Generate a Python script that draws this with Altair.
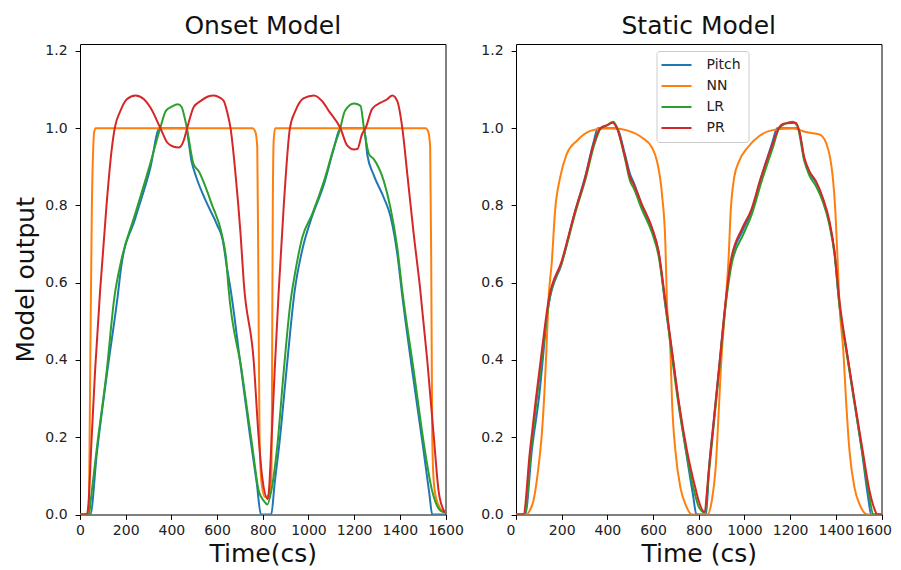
import altair as alt
import pandas as pd

SERIES = ["Pitch", "NN", "LR", "PR"]
COLORS = ["#1f77b4", "#ff7f0e", "#2ca02c", "#d62728"]

# ---------------- Onset Model (left panel) ----------------
onset_pitch_t = [0, 45, 74, 117, 166, 180, 241, 307, 348, 462, 490, 508, 560, 600, 625, 643, 660, 700, 745,
                 774, 792, 837, 852, 874, 905, 940, 975, 1015, 1068, 1110, 1140, 1243, 1258, 1285, 1330, 1360,
                 1390, 1410, 1455, 1503, 1530, 1542, 1600]
onset_pitch_v = [0, 0, 0.16, 0.36, 0.57, 0.64, 0.765, 0.895, 1.0, 1.0, 0.91, 0.875, 0.80, 0.75, 0.71, 0.64,
                 0.58, 0.40, 0.20, 0.08, 0.0, 0.0, 0.08, 0.19, 0.38, 0.58, 0.69, 0.77, 0.855, 0.945, 1.0, 1.0,
                 0.93, 0.88, 0.82, 0.77, 0.67, 0.57, 0.37, 0.17, 0.05, 0.0, 0.0]

onset_nn_t = [0, 37, 40, 45, 52, 58, 62, 68, 755, 768, 776, 781, 786, 795, 810, 825, 838, 841, 844, 848, 855,
              1513, 1525, 1533, 1538, 1542, 1548, 1560, 1578, 1600]
onset_nn_v = [0, 0, 0.06, 0.4, 0.8, 0.95, 0.99, 1.0, 1.0, 0.99, 0.95, 0.6, 0.2, 0.08, 0.045, 0.05, 0.1, 0.4,
              0.8, 0.97, 1.0, 1.0, 0.99, 0.95, 0.6, 0.2, 0.09, 0.04, 0.015, 0.005]

onset_lr_t = [0, 40, 45, 74, 117, 150, 180, 241, 307, 351, 376, 400, 428, 445, 457, 468, 497, 519, 577, 621,
              640, 650, 708, 755, 783, 805, 820, 837, 863, 892, 922, 940, 973, 1016, 1068, 1111, 1138, 1160,
              1199, 1228, 1243, 1265, 1286, 1330, 1359, 1389, 1411, 1461, 1508, 1542, 1578, 1600]
onset_lr_v = [0, 0, 0.027, 0.173, 0.372, 0.56, 0.656, 0.777, 0.907, 1.0, 1.045, 1.055, 1.062, 1.055, 1.03,
              1.0, 0.907, 0.889, 0.803, 0.725, 0.66, 0.587, 0.372, 0.173, 0.06, 0.035, 0.026, 0.06, 0.173,
              0.372, 0.553, 0.62, 0.717, 0.777, 0.863, 0.95, 0.997, 1.045, 1.064, 1.058, 1.0, 0.933, 0.92,
              0.863, 0.794, 0.69, 0.579, 0.372, 0.173, 0.06, 0.01, 0.005]

onset_pr_t = [0, 30, 37, 49, 66, 88, 116, 138, 152, 177, 205, 243, 280, 309, 352, 382, 410, 433, 455, 469,
              498, 527, 560, 586, 610, 630, 645, 659, 681, 703, 717, 760, 782, 797, 822, 827, 837, 852, 870,
              892, 919, 943, 980, 1024, 1060, 1089, 1140, 1170, 1200, 1214, 1235, 1250, 1279, 1316, 1345,
              1367, 1389, 1411, 1433, 1461, 1488, 1520, 1549, 1570, 1593, 1600]
onset_pr_v = [0, 0, 0.027, 0.173, 0.372, 0.579, 0.8, 0.941, 1.0, 1.045, 1.075, 1.085, 1.075, 1.053, 1.0,
              0.963, 0.952, 0.95, 0.97, 1.0, 1.055, 1.07, 1.082, 1.085, 1.08, 1.07, 1.04, 1.0, 0.88, 0.725,
              0.6, 0.4, 0.2, 0.1, 0.04, 0.06, 0.173, 0.37, 0.58, 0.8, 1.0, 1.045, 1.078, 1.085, 1.07, 1.045,
              1.0, 0.955, 0.945, 0.946, 0.985, 1.0, 1.05, 1.066, 1.075, 1.085, 1.07, 1.0, 0.88, 0.725, 0.59,
              0.4, 0.2, 0.06, 0.01, 0.005]

# ---------------- Static Model (right panel) ----------------
static_pitch_t = [0, 40, 70, 100, 142, 200, 259, 303, 340, 358, 440, 478, 500, 515, 551, 595, 624, 654, 683,
                  712, 745, 775, 790, 832, 845, 867, 889, 918, 940, 992, 1028, 1072, 1123, 1143, 1235, 1262,
                  1284, 1313, 1343, 1372, 1394, 1416, 1448, 1482, 1515, 1540, 1555, 1600]
static_pitch_v = [0, 0, 0.17, 0.30, 0.54, 0.65, 0.785, 0.875, 0.965, 1.0, 1.0, 0.93, 0.88, 0.86, 0.80, 0.74,
                  0.68, 0.54, 0.42, 0.29, 0.16, 0.05, 0.0, 0.0, 0.12, 0.25, 0.38, 0.55, 0.65, 0.735, 0.78,
                  0.87, 0.965, 1.0, 1.0, 0.92, 0.885, 0.86, 0.815, 0.755, 0.68, 0.54, 0.42, 0.29, 0.16, 0.05,
                  0.0, 0.0]

static_nn_t = [0, 40, 47, 60, 76, 98, 113, 124, 133, 142, 157, 171, 193, 222, 266, 325, 390, 430, 493, 551,
               595, 617, 639, 654, 661, 676, 683, 698, 720, 742, 771, 838, 857, 874, 886, 897, 918, 930, 940,
               955, 977, 1014, 1065, 1123, 1211, 1270, 1328, 1357, 1375, 1387, 1398, 1408, 1416, 1433, 1445,
               1460, 1482, 1504, 1540, 1600]
static_nn_v = [0, 0, 0.0, 0.01, 0.035, 0.121, 0.208, 0.311, 0.423, 0.553, 0.656, 0.786, 0.872, 0.933, 0.967,
               0.993, 1.0, 1.0, 0.993, 0.976, 0.95, 0.915, 0.829, 0.7, 0.544, 0.423, 0.294, 0.164, 0.069, 0.026,
               0.0, 0.0, 0.035, 0.121, 0.25, 0.38, 0.553, 0.656, 0.786, 0.872, 0.915, 0.95, 0.98, 0.995, 1.0,
               0.99, 0.984, 0.963, 0.924, 0.872, 0.786, 0.656, 0.544, 0.423, 0.294, 0.164, 0.069, 0.026, 0.0,
               0.0]

static_lr_t = [0, 38, 65, 90, 117, 145, 203, 262, 306, 343, 372, 400, 425, 440, 476, 500, 515, 551, 595, 624,
               652, 680, 709, 745, 780, 800, 826, 845, 867, 889, 920, 943, 995, 1031, 1075, 1126, 1152, 1180,
               1210, 1232, 1262, 1284, 1313, 1343, 1372, 1394, 1414, 1446, 1480, 1515, 1543, 1565, 1600]
static_lr_v = [0, 0, 0.164, 0.294, 0.423, 0.553, 0.656, 0.786, 0.872, 0.958, 1.0, 1.008, 1.017, 1.005, 0.924,
               0.862, 0.845, 0.79, 0.73, 0.67, 0.553, 0.423, 0.294, 0.164, 0.06, 0.02, 0.005, 0.11, 0.24,
               0.37, 0.553, 0.645, 0.725, 0.775, 0.862, 0.953, 1.0, 1.012, 1.017, 1.005, 0.915, 0.878, 0.85,
               0.81, 0.75, 0.675, 0.553, 0.423, 0.294, 0.164, 0.06, 0.0, 0.0]

static_pr_t = [0, 32, 61, 86, 113, 142, 200, 259, 303, 339, 369, 400, 423, 442, 478, 500, 515, 551, 595, 624,
               654, 683, 712, 749, 785, 800, 824, 845, 867, 889, 918, 940, 992, 1028, 1072, 1123, 1150, 1175,
               1225, 1240, 1262, 1284, 1313, 1343, 1372, 1394, 1416, 1448, 1482, 1518, 1545, 1570, 1582, 1600]
static_pr_v = [0, 0, 0.164, 0.294, 0.423, 0.553, 0.656, 0.786, 0.872, 0.958, 1.0, 1.008, 1.014, 1.0, 0.924,
               0.872, 0.855, 0.803, 0.743, 0.682, 0.553, 0.423, 0.294, 0.164, 0.069, 0.035, 0.007, 0.121,
               0.25, 0.38, 0.553, 0.656, 0.743, 0.786, 0.872, 0.958, 1.0, 1.012, 1.014, 0.993, 0.924, 0.889,
               0.863, 0.82, 0.76, 0.682, 0.553, 0.423, 0.294, 0.164, 0.069, 0.013, 0.0, 0.0]

X_TICKS = [0, 200, 400, 600, 800, 1000, 1200, 1400, 1600]
Y_TICKS = [0.0, 0.2, 0.4, 0.6, 0.8, 1.0, 1.2]


def frame(pairs):
    rows = []
    for name, ts, vs in pairs:
        for i, (t, v) in enumerate(zip(ts, vs)):
            rows.append({"series": name, "t": t, "v": v, "i": i})
    return pd.DataFrame(rows)


onset_df = frame([("Pitch", onset_pitch_t, onset_pitch_v), ("NN", onset_nn_t, onset_nn_v),
                  ("LR", onset_lr_t, onset_lr_v), ("PR", onset_pr_t, onset_pr_v)])
static_df = frame([("Pitch", static_pitch_t, static_pitch_v), ("NN", static_nn_t, static_nn_v),
                   ("LR", static_lr_t, static_lr_v), ("PR", static_pr_t, static_pr_v)])

FONT = "DejaVu Sans"
W, H = 365.5, 470.5


def panel(df, title, x_title, y_title, show_legend, flush_x):
    x_axis_kw = dict(values=X_TICKS, format="d", title=x_title, labelFlush=flush_x,
                     labelOverlap=False, grid=False, domain=False, tickSize=4.9, tickColor="black",
                     labelPadding=4, labelFontSize=14, labelFont=FONT, labelColor="#222",
                     titleFontSize=25, titleFont=FONT, titleFontWeight="normal", titleColor="#111",
                     titlePadding=4)
    if flush_x:
        x_axis_kw.update(labelFlushOffset=10)
    x = alt.X("t:Q", scale=alt.Scale(domain=[0, 1600], nice=False, zero=False),
              axis=alt.Axis(**x_axis_kw))
    y_axis_kw = dict(values=Y_TICKS, format=".1f", grid=False, domain=False, tickSize=4.9,
                     tickColor="black", labelPadding=8, labelFontSize=14, labelFont=FONT,
                     labelColor="#222", labelFlush=False, labelOverlap=False)
    if y_title:
        y_axis_kw.update(title=y_title, titleFontSize=25, titleFont=FONT, titleFontWeight="normal",
                         titleColor="#111", titlePadding=6)
    else:
        y_axis_kw.update(title=None)
    y = alt.Y("v:Q", scale=alt.Scale(domain=[0, 1.218], nice=False, zero=False),
              axis=alt.Axis(**y_axis_kw))
    if show_legend:
        legend = alt.Legend(title=None, orient="none", legendX=140.5, legendY=7,
                            symbolType="M-3,0H3", symbolSize=100, symbolStrokeWidth=2,
                            symbolOffset=6, labelOffset=23, labelFontSize=14, labelFont=FONT,
                            labelColor="#222", rowPadding=7, padding=7, fillColor="white",
                            strokeColor="#cccccc", cornerRadius=3)
    else:
        legend = None
    color = alt.Color("series:N", sort=SERIES,
                      scale=alt.Scale(domain=SERIES, range=COLORS), legend=legend)
    return alt.Chart(df).mark_line(strokeWidth=2, clip=True, interpolate="monotone").encode(
        x=x, y=y, color=color, order="i:Q"
    ).properties(
        width=W, height=H,
        title=alt.TitleParams(title, fontSize=25, font=FONT, fontWeight="normal", color="#111",
                              offset=5, anchor="middle")
    )


left = panel(onset_df, "Onset Model", "Time(cs)", "Model output", False, False)
right = panel(static_df, "Static Model", "Time (cs)", None, True, True)

chart = alt.hconcat(left, right, spacing=70, bounds="flush").resolve_legend(
    color="independent"
).properties(
    padding={"left": 5, "top": 5, "right": 0, "bottom": 1}
).configure_view(stroke="black", strokeWidth=1)

chart.save("out.html", embed_options={"renderer": "svg", "actions": False})
